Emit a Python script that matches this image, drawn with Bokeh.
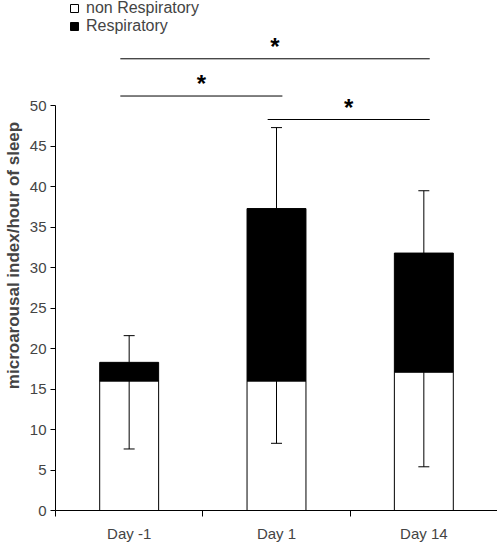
from bokeh.plotting import figure
from bokeh.models import Range1d, FixedTicker, Whisker, ColumnDataSource, Legend, LegendItem, TeeHead
from bokeh.core.properties import value
from bokeh.embed import file_html
from bokeh.resources import INLINE

# ---- data ----
days = ["Day -1", "Day 1", "Day 14"]
non_respiratory = [16.0, 16.0, 17.1]
respiratory = [2.3, 21.3, 14.7]
err_upper = [3.3, 10.0, 7.7]
err_lower = [8.4, 7.7, 11.7]
sig_from = [0, 0, 1]
sig_to = [2, 1, 2]
sig_y = [55.8, 51.2, 48.3]
sig_label = ["*", "*", "*"]
y_ticks = [0, 5, 10, 15, 20, 25, 30, 35, 40, 45, 50]

FONT = "Liberation Sans"

x = [i + 0.5 for i in range(len(days))]
total = [a + b for a, b in zip(non_respiratory, respiratory)]
src = ColumnDataSource(dict(
    x=x, non=non_respiratory, resp=respiratory,
    low_top=non_respiratory,
    low_bot=[a - e for a, e in zip(non_respiratory, err_lower)],
    up_bot=total,
    up_top=[t + e for t, e in zip(total, err_upper)],
))

p = figure(width=497, height=544, x_range=Range1d(0, 3), y_range=Range1d(0, 63),
           output_backend="svg", toolbar_location=None,
           min_border_left=51, min_border_top=0, min_border_right=0, min_border_bottom=0)
p.xgrid.visible = False
p.ygrid.visible = False
p.outline_line_color = None

rs = p.vbar_stack(["non", "resp"], x="x", width=0.4, source=src,
                  fill_color=["white", "black"], line_color="black", line_width=1)

lw = Whisker(base="x", upper="low_top", lower="low_bot", source=src,
             upper_head=None, lower_head=TeeHead(size=11, line_color="black"),
             line_color="black", level="annotation")
uw = Whisker(base="x", upper="up_top", lower="up_bot", source=src,
             lower_head=None, upper_head=TeeHead(size=11, line_color="black"),
             line_color="black", level="annotation")
p.add_layout(lw)
p.add_layout(uw)

# significance brackets
x0 = [f + 0.5 - 0.06 for f in sig_from]
x1 = [t + 0.5 + 0.04 for t in sig_to]
p.segment(x0=x0, x1=x1, y0=sig_y, y1=sig_y, line_color="black", line_width=1)
p.text(x=[(a + b) / 2 for a, b in zip(x0, x1)], y=[v + 1.5 for v in sig_y], text=sig_label,
       text_align="center", text_baseline="middle", text_font=value(FONT),
       text_font_size="24px", text_font_style="bold", text_color="black")

# axes
ya = p.yaxis[0]
ya.ticker = FixedTicker(ticks=y_ticks)
ya.bounds = (0, 50)
ya.minor_tick_line_color = None
ya.major_tick_in = 0
ya.major_tick_out = 5
ya.axis_label = "microarousal index/hour of sleep"
ya.axis_label_text_font = FONT
ya.axis_label_text_font_style = "bold"
ya.axis_label_text_font_size = "17px"
ya.axis_label_standoff = 4
ya.major_label_text_font = FONT
ya.major_label_text_font_size = "15px"
ya.major_label_standoff = 4
ya.axis_line_color = "black"
ya.major_tick_line_color = "black"

xa = p.xaxis[0]
xa.ticker = FixedTicker(ticks=x, minor_ticks=[0, 1, 2, 3])
xa.major_label_overrides = {v: d for v, d in zip(x, days)}
xa.major_tick_out = 0
xa.major_tick_in = 0
xa.minor_tick_out = 6
xa.minor_tick_in = 0
xa.minor_tick_line_color = "black"
xa.major_label_text_font = FONT
xa.major_label_text_font_size = "15px"
xa.major_label_standoff = 8
xa.axis_line_color = "black"

legend = Legend(items=[LegendItem(label="non Respiratory", renderers=[rs[0]]),
                       LegendItem(label="Respiratory", renderers=[rs[1]])],
                location=(14, 475), glyph_width=10, glyph_height=10,
                label_standoff=7, spacing=0, padding=0, margin=0, label_height=18,
                label_text_font=FONT, label_text_font_size="16px",
                border_line_color=None, background_fill_alpha=0)
p.add_layout(legend)

open("out.html", "w").write(file_html(p, INLINE))
